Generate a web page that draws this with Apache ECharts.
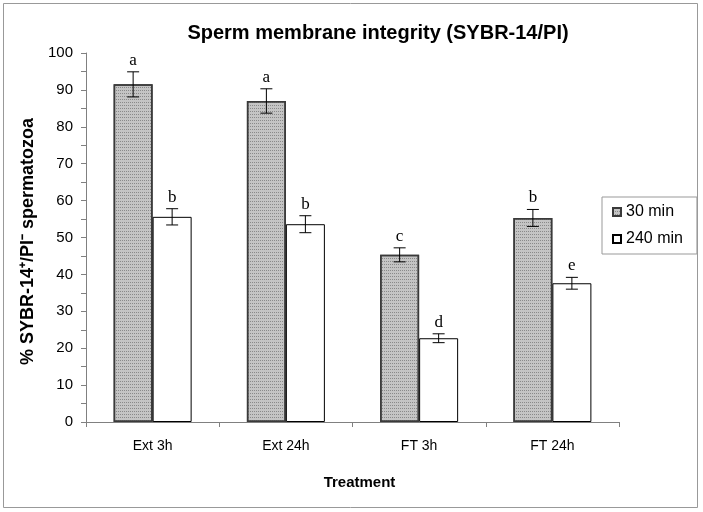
<!DOCTYPE html>
<html><head><meta charset="utf-8">
<script src="https://cdn.jsdelivr.net/npm/echarts@6/dist/echarts.min.js"></script>
<style>html,body{margin:0;padding:0;background:#fff}#c{width:703px;height:512px}</style>
</head><body><div id="c"></div>
<script>
const categories = ['Ext 3h', 'Ext 24h', 'FT 3h', 'FT 24h'];
const seriesNames = ['30 min', '240 min'];
const values30 = [91.5, 87.0, 45.3, 55.3];
const values240 = [55.6, 53.6, 22.7, 37.6];
const err30 = [3.4, 3.3, 1.9, 2.3];
const err240 = [2.2, 2.3, 1.2, 1.6];
const letters30 = ['a', 'a', 'c', 'b'];
const letters240 = ['b', 'b', 'd', 'e'];
const yTicks = [0, 100, 10];

const BW = 39;
const FONT = '"Liberation Sans", Arial, sans-serif';

function errSeries(vals, errs, letters, side) {
  const data = vals.map((v, i) => [i, v, errs[i], letters[i]]);
  return {
    type: 'custom', silent: true, z: 10,
    data: data,
    renderItem: function (params, api) {
      const i = api.value(0), v = api.value(1), e = api.value(2);
      const c = api.coord([i, v]);
      const x = c[0] + side * BW / 2;
      const top = api.coord([i, v + e])[1];
      const bot = api.coord([i, v - e])[1];
      const hw = 6;
      const st = { stroke: '#000', lineWidth: 1 };
      return {
        type: 'group', children: [
          { type: 'line', shape: { x1: x, y1: top, x2: x, y2: bot }, style: st },
          { type: 'line', shape: { x1: x - hw, y1: top, x2: x + hw, y2: top }, style: st },
          { type: 'line', shape: { x1: x - hw, y1: bot, x2: x + hw, y2: bot }, style: st },
          { type: 'text', style: { text: data[params.dataIndex][3], x: x, y: top - 3, align: 'center', verticalAlign: 'bottom',
            font: '17px "Liberation Serif", "Times New Roman", serif', fill: '#000' } }
        ]
      };
    }
  };
}

const chart = echarts.init(document.getElementById('c'));
chart.setOption({
  animation: false,
  backgroundColor: '#fff',
  graphic: [{ type: 'rect', shape: { x: 3.5, y: 3.5, width: 694, height: 504 }, style: { fill: 'none', stroke: '#999', lineWidth: 1 }, silent: true }],
  title: { text: 'Sperm membrane integrity (SYBR-14/PI)', left: 373, textAlign: 'center', top: 18,
    textStyle: { fontFamily: FONT, fontWeight: 'bold', fontSize: 20, color: '#000' } },
  legend: {
    data: seriesNames.map(n => ({ name: n, icon: 'rect' })), orient: 'vertical', left: 602, top: 197,
    itemWidth: 8, itemHeight: 8, itemGap: 9, padding: [6, 14, 6, 10],
    borderColor: '#999', borderWidth: 1, backgroundColor: '#fff',
    textStyle: { fontFamily: FONT, fontSize: 16, lineHeight: 18, color: '#000' }
  },
  grid: { left: 86, right: 84, top: 53, bottom: 90, containLabel: false },
  xAxis: {
    type: 'category', data: categories,
    name: 'Treatment', nameLocation: 'middle', nameGap: 53,
    nameTextStyle: { fontFamily: FONT, fontWeight: 'bold', fontSize: 15, color: '#000', padding: [0, 0, 0, 14] },
    axisLine: { lineStyle: { color: '#808080' } },
    axisTick: { show: true, length: 5, lineStyle: { color: '#808080' } },
    axisLabel: { fontFamily: FONT, fontSize: 14, color: '#000', margin: 17 }
  },
  yAxis: {
    type: 'value', min: yTicks[0], max: yTicks[1], interval: yTicks[2],
    name: '% SYBR-14\u207A/PI\u207B spermatozoa', nameLocation: 'middle', nameGap: 41, nameRotate: 90,
    nameTextStyle: { fontFamily: FONT, fontWeight: 'bold', fontSize: 18, color: '#000', padding: [0, 8, 0, 0] },
    axisLine: { show: true, lineStyle: { color: '#808080' } },
    axisTick: { show: true, length: 5, lineStyle: { color: '#808080' } },
    minorTick: { show: true, splitNumber: 2, length: 5, lineStyle: { color: '#808080' } },
    splitLine: { show: false },
    axisLabel: { fontFamily: FONT, fontSize: 15, color: '#000', margin: 13 }
  },
  series: [
    { name: seriesNames[0], type: 'bar', data: values30, barWidth: BW, barGap: '0%',
      itemStyle: { color: '#c4c4c4', borderColor: '#3a3a3a', borderWidth: 1.5,
        decal: { symbol: 'rect', symbolSize: 1, dashArrayX: [1, 1], dashArrayY: [1, 2], color: 'rgba(90,90,90,0.55)' } } },
    { name: seriesNames[1], type: 'bar', data: values240, barWidth: BW,
      itemStyle: { color: '#ffffff', borderColor: '#000', borderWidth: 1 } },
    errSeries(values30, err30, letters30, -1),
    errSeries(values240, err240, letters240, 1)
  ]
});
</script></body></html>
